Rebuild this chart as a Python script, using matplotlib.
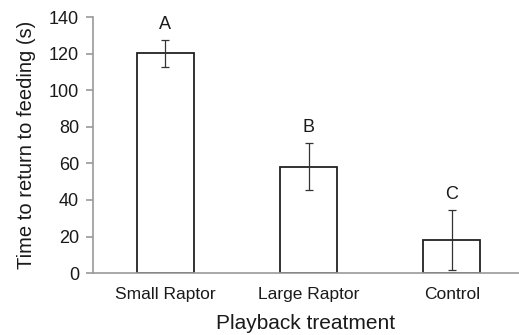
import matplotlib
matplotlib.use("Agg")
import matplotlib.pyplot as plt
import numpy as np

plt.rcParams['font.family'] = ['Liberation Sans', 'DejaVu Sans']

# mean time to resume feeding per playback, with error bars and group letters
treatments = ['Small Raptor', 'Large Raptor', 'Control']
mean_time = [120.3, 58.3, 18.0]
err_time = [7.2, 13.0, 16.5]
letters = ['A', 'B', 'C']

fig = plt.figure(figsize=(5.19, 3.35), dpi=100)
ax = fig.add_axes([0.179, 0.185, 0.821, 0.763])

x = np.arange(len(treatments))
ax.bar(x, mean_time, width=0.4, color='white', edgecolor='#222222', linewidth=1.3, zorder=2)
ax.errorbar(x, mean_time, yerr=err_time, fmt='none', ecolor='#333333',
            elinewidth=0.9, capsize=3, capthick=0.9, zorder=3)

for xi, m, e, lab in zip(x, mean_time, err_time, letters):
    ax.text(xi, m + e + 4, lab, ha='center', va='bottom', fontsize=13, color='#1a1a1a')

ax.set_xlim(-0.507, 2.47)
ax.set_ylim(0, 140)
ax.set_yticks(np.arange(0, 141, 20))
ax.set_xticks(x)
ax.set_xticklabels(treatments, fontsize=12.5, color='#1a1a1a')
ax.tick_params(axis='y', labelsize=13, labelcolor='#1a1a1a', length=5,
               color='#999999', width=1.2, pad=5)
ax.tick_params(axis='x', length=0, pad=10)

for side in ['top', 'right']:
    ax.spines[side].set_visible(False)
for side in ['left', 'bottom']:
    ax.spines[side].set_color('#999999')
    ax.spines[side].set_linewidth(1.2)

ax.set_xlabel('Playback treatment', fontsize=15, color='#1a1a1a', labelpad=9)
ax.set_ylabel('Time to return to feeding (s)', fontsize=14.5, color='#1a1a1a', labelpad=9)

fig.savefig('out.png', dpi=100)
